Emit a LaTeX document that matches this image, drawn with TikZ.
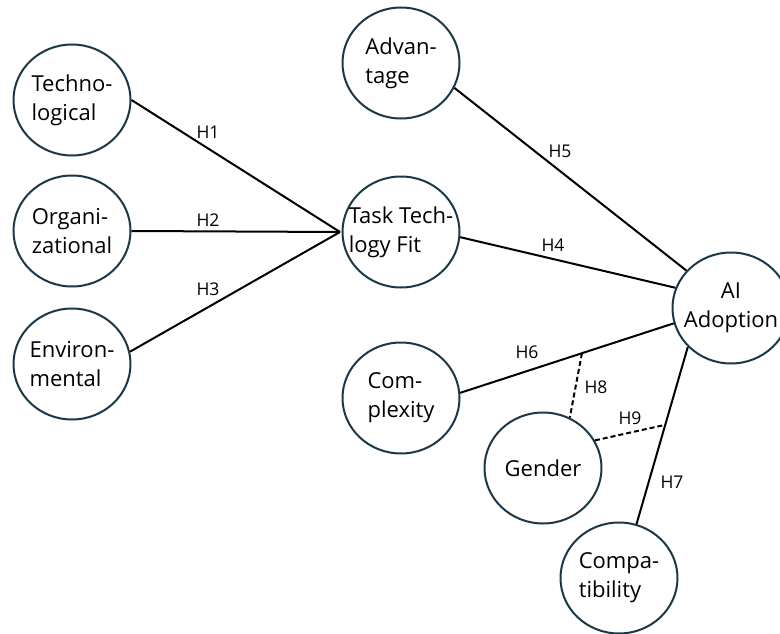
\documentclass[tikz,border=0pt]{standalone}
\usepackage{fontspec}
\setmainfont{Open Sans}
\usetikzlibrary{shapes.geometric}
\definecolor{circol}{RGB}{28,56,72}
\tikzset{
  var/.style={ellipse, draw=circol, line width=2pt, minimum width=117pt, minimum height=111pt, inner sep=0pt},
  txt/.style={font=\fontsize{22}{29}\selectfont, align=left, inner sep=0pt},
  conn/.style={line width=2pt, black},
  mod/.style={line width=2pt, black, dash pattern=on 5pt off 3pt},
  hl/.style={font=\fontsize{17.5}{20}\selectfont, inner sep=0pt}
}
\begin{document}
\begin{tikzpicture}[x=1pt, y=-1pt]
\useasboundingbox (0,0) rectangle (780,634);
% nodes
\node[var, label={[txt]center:{Techno-\\logical}}] (tech) at (72,100) {};
\node[var, label={[txt]center:{Organi-\\zational}}] (org) at (72,231) {};
\node[var, label={[txt]center:{Environ-\\mental}}] (env) at (72,364) {};
\node[var, label={[txt]center:{Advan-\\tage}}] (adv) at (401,63) {};
\node[var, label={[txt]center:{Task Tech-\\logy Fit}}] (ttf) at (401,232) {};
\node[var, label={[txt, align=center]center:{AI\\Adoption}}] (ai) at (731,308) {};
\node[var, label={[txt]center:{Com-\\plexity}}] (cx) at (401,398) {};
\node[var, label={[txt]center:{Gender}}] (gen) at (543,468) {};
\node[var, label={[txt]center:{Compa-\\tibility}}] (comp) at (619,578) {};
\coordinate (conv) at (340,232);
% connectors
\draw[conn] (tech.east) -- (conv);
\draw[conn] (org.east) -- (conv);
\draw[conn] (env.12) -- (conv);
\draw[conn] (ttf.-5) -- (ai.160);
\draw[conn] (adv.-25) -- (ai.140);
\draw[conn] (cx.5) -- coordinate[pos=0.57] (h6m) (ai.195);
\draw[conn] (ai.222) -- coordinate[pos=0.44] (h7m) (comp.72);
\draw[mod] (h6m) -- (gen.62);
\draw[mod] (gen.28) -- (h7m);
% labels
\node[hl] at (208,132) {H1};
\node[hl] at (208,220) {H2};
\node[hl] at (208,289) {H3};
\node[hl] at (553,245) {H4};
\node[hl] at (560,151) {H5};
\node[hl] at (527,352) {H6};
\node[hl] at (672,482) {H7};
\node[hl] at (596,387) {H8};
\node[hl] at (630,418) {H9};
\end{tikzpicture}
\end{document}
